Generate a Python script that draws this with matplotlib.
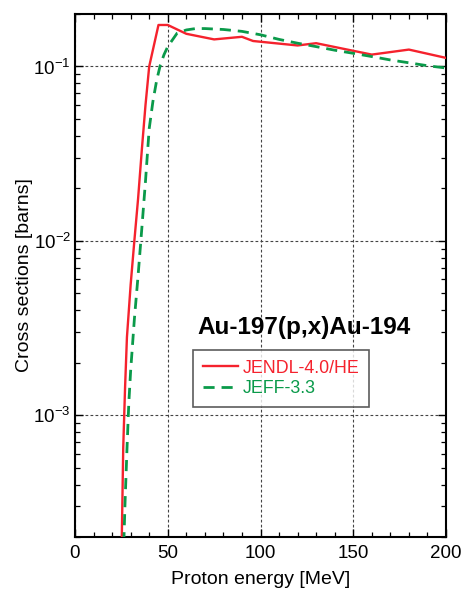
import matplotlib
matplotlib.use("Agg")
import matplotlib.pyplot as plt
from matplotlib.ticker import FixedLocator, FuncFormatter, LogLocator, NullFormatter, MultipleLocator

plt.rcParams['font.family'] = ['Liberation Sans', 'DejaVu Sans']
plt.rcParams['mathtext.fontset'] = 'custom'
plt.rcParams['mathtext.rm'] = 'Liberation Sans'
plt.rcParams['mathtext.it'] = 'Liberation Sans'

# JENDL-4.0/HE
jendl_e = [25, 26, 27, 28, 30, 32, 34, 36, 38, 40, 45, 50, 60, 75, 90, 96, 120, 130, 160, 180, 200]
jendl_xs = [1.4e-4, 6.5e-4, 1.45e-3, 2.8e-3, 5.6e-3, 1.0e-2, 1.74e-2, 3.3e-2, 6.0e-2, 0.100,
            0.173, 0.173, 0.154, 0.143, 0.148, 0.140, 0.132, 0.136, 0.117, 0.125, 0.112]

# JEFF-3.3
jeff_e = [26, 27, 28, 29, 30, 32, 34, 36, 38, 40, 42, 44, 46, 48, 50, 55, 60, 65, 70, 80, 90,
          100, 110, 120, 130, 140, 150, 160, 170, 180, 190, 200]
jeff_xs = [1.45e-4, 3.2e-4, 6.3e-4, 1.17e-3, 1.8e-3, 3.55e-3, 6.3e-3, 1.17e-2, 2.2e-2, 4.4e-2,
           0.063, 0.083, 0.102, 0.117, 0.130, 0.155, 0.162, 0.165, 0.165, 0.163, 0.159,
           0.152, 0.143, 0.136, 0.130, 0.124, 0.119, 0.114, 0.109, 0.105, 0.101, 0.098]

x_ticks = [0, 50, 100, 150, 200]
y_ticks = [1e-3, 1e-2, 1e-1]
y_tick_labels = [r'$\mathregular{10^{-3}}$', r'$\mathregular{10^{-2}}$', r'$\mathregular{10^{-1}}$']

fig = plt.figure(figsize=(4.66, 5.89), dpi=100)
ax = fig.add_axes([75/466, 52/589, 371/466, 523/589])

ax.plot(jendl_e, jendl_xs, color='#f5222d', lw=1.7, label='JENDL-4.0/HE', zorder=3)
ax.plot(jeff_e, jeff_xs, color='#0a9a4a', lw=2.0, ls=(0, (4, 2.5)), label='JEFF-3.3', zorder=3)

ax.set_yscale('log')
ax.set_xlim(0, 200)
ax.set_ylim(2e-4, 0.2)

ax.xaxis.set_major_locator(FixedLocator(x_ticks))
ax.xaxis.set_minor_locator(MultipleLocator(10))
ax.yaxis.set_major_locator(FixedLocator(y_ticks))
ax.yaxis.set_major_formatter(FuncFormatter(lambda v, p: dict(zip(y_ticks, y_tick_labels)).get(v, '')))
ax.yaxis.set_minor_locator(LogLocator(base=10, subs=range(2, 10)))
ax.yaxis.set_minor_formatter(NullFormatter())

ax.tick_params(which='both', direction='in', top=True, right=True, labelsize=13.5, colors='black')
ax.tick_params(which='major', length=6, width=1.0)
ax.tick_params(axis='x', which='major', pad=6)
ax.tick_params(axis='y', which='major', pad=3)
ax.tick_params(which='minor', length=3.5, width=0.9)

ax.grid(True, which='major', color='#444444', lw=0.8, ls=(0, (2.5, 2)))
for s in ax.spines.values():
    s.set_linewidth(1.5)

ax.set_xlabel('Proton energy [MeV]', fontsize=14, labelpad=6)
ax.set_ylabel('Cross sections [barns]', fontsize=14, labelpad=0)

ax.text(0.33, 0.401, 'Au-197(p,x)Au-194', transform=ax.transAxes, fontsize=17.5,
        fontweight='bold', ha='left', va='center')

leg = ax.legend(loc='upper left', bbox_to_anchor=(0.318, 0.358), fontsize=12.8,
                frameon=True, fancybox=False, handlelength=2.0, handletextpad=0.25,
                borderpad=0.55, labelspacing=0.2, borderaxespad=0)
leg.get_frame().set_edgecolor('#333333')
leg.get_frame().set_linewidth(1.2)
for t, c in zip(leg.get_texts(), ['#f5222d', '#0a9a4a']):
    t.set_color(c)

fig.savefig('out.png', dpi=100)
